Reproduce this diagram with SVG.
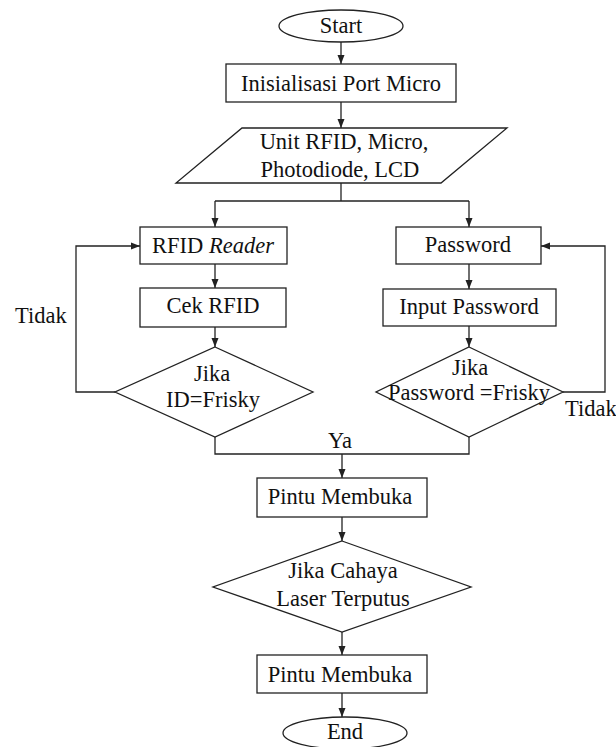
<svg xmlns="http://www.w3.org/2000/svg" width="616" height="747" viewBox="0 0 616 747">
  <style>
    .shape { fill: #ffffff; stroke: #222222; stroke-width: 1.3; }
    .wire { fill: none; stroke: #222222; stroke-width: 1.3; }
    .arrow { fill: none; stroke: #222222; stroke-width: 1.3; marker-end: url(#head); }
    text { font-family: "Liberation Serif", "Times New Roman", serif; font-size: 22.5px; fill: #111111; }
    .c { text-anchor: middle; }
  </style>
  <defs>
    <marker id="head" markerUnits="userSpaceOnUse" markerWidth="10" markerHeight="10" viewBox="0 0 10 10" refX="9" refY="5" orient="auto">
      <path d="M0,1.5 L9,5 L0,8.5 Z" fill="#222222"/>
    </marker>
  </defs>

  <g id="connectors">
    <line class="arrow" x1="341" y1="42" x2="341" y2="64"/>
    <line class="arrow" x1="341" y1="102" x2="341" y2="128"/>
    <polyline class="wire" points="341,183 341,201"/>
    <polyline class="wire" points="215,201 469,201"/>
    <line class="arrow" x1="215" y1="201" x2="215" y2="227"/>
    <line class="arrow" x1="469" y1="201" x2="469" y2="227"/>
    <line class="arrow" x1="215" y1="264" x2="215" y2="288"/>
    <line class="arrow" x1="215" y1="327" x2="215" y2="347"/>
    <polyline class="arrow" points="115,392 76,392 76,246 140,246"/>
    <line class="arrow" x1="469" y1="264" x2="469" y2="289"/>
    <line class="arrow" x1="469" y1="326" x2="469" y2="347"/>
    <polyline class="arrow" points="563,392 605,392 605,246 541,246"/>
    <polyline class="wire" points="215,437 215,454 469,454 469,437"/>
    <line class="arrow" x1="342" y1="454" x2="342" y2="478"/>
    <line class="arrow" x1="342" y1="517" x2="342" y2="541"/>
    <line class="arrow" x1="342" y1="632" x2="342" y2="655"/>
    <line class="arrow" x1="342" y1="693" x2="342" y2="717"/>
    <text x="15" y="323">Tidak</text>
    <text x="565" y="416" font-size="21">Tidak</text>
    <text x="328" y="448">Ya</text>
  </g>

  <g id="start">
    <ellipse class="shape" cx="341" cy="26" rx="62" ry="16"/>
    <text class="c" x="341" y="33">Start</text>
  </g>

  <g id="init-port">
    <rect class="shape" x="226" y="64" width="230" height="38"/>
    <text class="c" x="341" y="91">Inisialisasi Port Micro</text>
  </g>

  <g id="units">
    <polygon class="shape" points="242,128 507,128 441,183 176,183"/>
    <text class="c" x="344" y="149">Unit RFID, Micro,</text>
    <text class="c" x="340" y="177">Photodiode, LCD</text>
  </g>

  <g id="rfid-reader">
    <rect class="shape" x="140" y="227" width="147" height="37"/>
    <text class="c" x="213" y="253">RFID <tspan font-style="italic">Reader</tspan></text>
  </g>

  <g id="cek-rfid">
    <rect class="shape" x="140" y="288" width="146" height="39"/>
    <text class="c" x="213" y="313">Cek RFID</text>
  </g>

  <g id="cek-id">
    <polygon class="shape" points="215,347 313,392 215,437 115,392"/>
    <text class="c" x="212" y="381">Jika</text>
    <text class="c" x="213" y="407">ID=Frisky</text>
  </g>

  <g id="password">
    <rect class="shape" x="396" y="227" width="145" height="37"/>
    <text class="c" x="468" y="252">Password</text>
  </g>

  <g id="input-password">
    <rect class="shape" x="383" y="289" width="173" height="37"/>
    <text class="c" x="469" y="314">Input Password</text>
  </g>

  <g id="cek-password">
    <polygon class="shape" points="469,347 563,392 469,437 376,392"/>
    <text class="c" x="470" y="375" font-size="20">Jika</text>
    <text class="c" x="469" y="400" font-size="19.5">Password =Frisky</text>
  </g>

  <g id="pintu-membuka">
    <rect class="shape" x="257" y="478" width="170" height="39"/>
    <text class="c" x="340" y="504">Pintu Membuka</text>
  </g>

  <g id="cek-laser">
    <polygon class="shape" points="342,541 471,587 342,632 213,587"/>
    <text class="c" x="343" y="578">Jika Cahaya</text>
    <text class="c" x="343" y="606">Laser Terputus</text>
  </g>

  <g id="pintu-membuka-2">
    <rect class="shape" x="257" y="655" width="170" height="38"/>
    <text class="c" x="340" y="682">Pintu Membuka</text>
  </g>

  <g id="end">
    <ellipse class="shape" cx="345" cy="733" rx="62" ry="16"/>
    <text class="c" x="345" y="739">End</text>
  </g>
</svg>
